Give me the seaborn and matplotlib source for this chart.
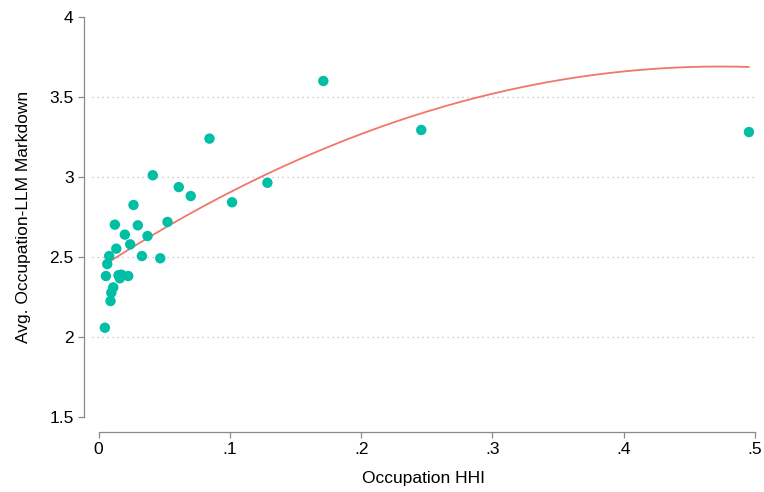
import matplotlib
matplotlib.use("Agg")
import matplotlib.pyplot as plt
import seaborn as sns
import pandas as pd
import numpy as np

hhi = [0.0048, 0.0091, 0.0097, 0.0112, 0.0056, 0.0152, 0.0173, 0.0162, 0.0226,
       0.0066, 0.0081, 0.0135, 0.0241, 0.0200, 0.0124, 0.0299, 0.0373, 0.0330,
       0.0470, 0.0525, 0.0266, 0.0413, 0.0611, 0.0702, 0.1017, 0.1286, 0.0845,
       0.1712, 0.2458, 0.4954]
markdown = [2.058, 2.225, 2.277, 2.310, 2.381, 2.386, 2.390, 2.367, 2.381,
            2.456, 2.506, 2.552, 2.579, 2.640, 2.702, 2.698, 2.631, 2.506,
            2.492, 2.719, 2.825, 3.011, 2.937, 2.881, 2.842, 2.964, 3.240,
            3.600, 3.294, 3.281]
# quadratic fit (qfit) coefficients: c2, c1, c0
fit_coef = [-5.63, 5.334, 2.427]
xticks = [0, 0.1, 0.2, 0.3, 0.4, 0.5]
xticklabels = ["0", ".1", ".2", ".3", ".4", ".5"]
yticks = [1.5, 2, 2.5, 3, 3.5, 4]
yticklabels = ["1.5", "2", "2.5", "3", "3.5", "4"]

df = pd.DataFrame({"hhi": hhi, "markdown": markdown})
xs = np.linspace(min(hhi), max(hhi), 200)
fit_df = pd.DataFrame({"hhi": xs, "fit": np.polyval(fit_coef, xs)})

sns.set_theme(style="white")
plt.rcParams["font.family"] = ["Liberation Sans", "DejaVu Sans"]

fig = plt.figure(figsize=(7.64, 4.92), dpi=100)
W, H = 764, 492
ax = fig.add_axes([92 / W, 1 - 417 / H, (755 - 92) / W, (417 - 17) / H])

sns.lineplot(data=fit_df, x="hhi", y="fit", color="#F2766B", lw=1.3, ax=ax, zorder=2)
sns.scatterplot(data=df, x="hhi", y="markdown", color="#00BFA5", s=56,
                edgecolor="none", ax=ax, zorder=3)

ax.set_xlim(-0.005, 0.5)
ax.set_ylim(1.5, 4)
ax.set_xticks(xticks)
ax.set_xticklabels(xticklabels)
ax.set_yticks(yticks)
ax.set_yticklabels(yticklabels)

for y in [2, 2.5, 3, 3.5]:
    ax.axhline(y, color="#BDBDBD", lw=0.9, ls=(0, (1, 3)), zorder=1)

for s in ["top", "right"]:
    ax.spines[s].set_visible(False)
ax.spines["left"].set_position(("outward", 5.8))
ax.spines["bottom"].set_position(("outward", 10.8))
ax.spines["bottom"].set_bounds(0, 0.5)
for s in ["left", "bottom"]:
    ax.spines[s].set_color("#8A8A8A")
    ax.spines[s].set_linewidth(0.9)
ax.tick_params(axis="both", direction="out", length=4.5, width=0.9, color="#8A8A8A",
               labelsize=12.5, labelcolor="black", left=True, bottom=True, pad=3)

ax.set_xlabel("Occupation HHI", fontsize=12.5, color="black", labelpad=10)
ax.set_ylabel("Avg. Occupation-LLM Markdown", fontsize=12.5, color="black", labelpad=13)

fig.savefig("out.png", dpi=100)
